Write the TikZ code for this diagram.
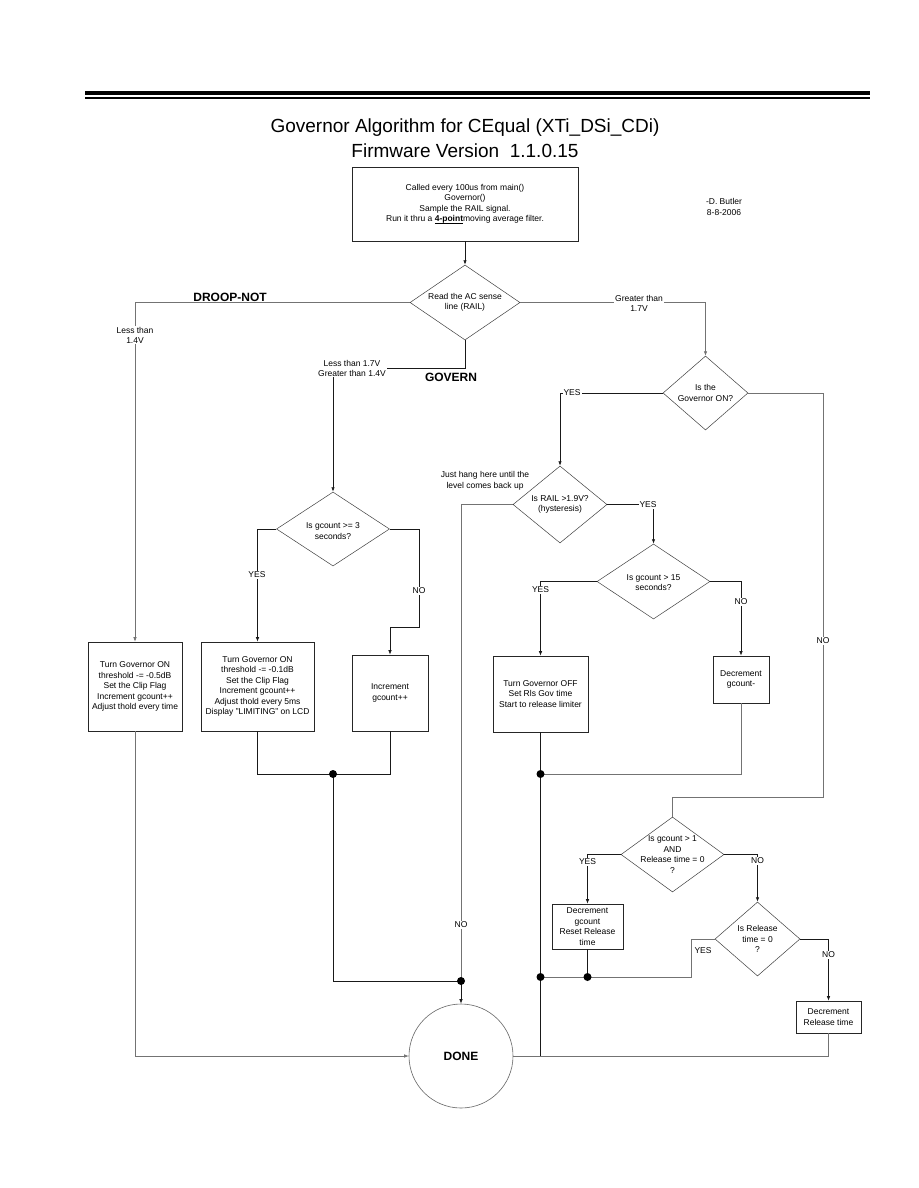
\documentclass[tikz,border=0pt]{standalone}
\usepackage{fontspec}
\setmainfont{Liberation Sans}
\usetikzlibrary{arrows.meta,shapes.geometric}
\newcommand\myulbold[1]{\sbox0{\textbf{#1}}\rlap{\rule[-1.6pt]{\wd0}{0.7pt}}\usebox0}
\begin{document}
\begin{tikzpicture}[x=1pt,y=-1pt,
  box/.style={draw=black!85, line width=0.6pt, inner sep=0pt, font=\fontsize{8.5}{10.5}\selectfont, align=center},
  dia/.style={draw=black!75, line width=0.5pt, diamond, inner sep=0pt},
  txt/.style={font=\fontsize{8.5}{10.5}\selectfont, align=center, inner sep=1pt},
  lbl/.style={font=\fontsize{8.5}{10}\selectfont, align=center, inner sep=1pt, fill=white},
  ln/.style={line width=0.7pt, black!90},
  gln/.style={line width=0.6pt, black!55},
  arr/.style={-{Latex[length=4.5pt,width=3.5pt]}},
  big/.style={font=\bfseries\fontsize{12}{14}\selectfont, inner sep=0pt}
]
\useasboundingbox (0,0) rectangle (918,1188);
\fill[white] (0,0) rectangle (918,1188);

% header rules
\draw[line width=4pt] (85,93.5) -- (870,93.5);
\draw[line width=1.2pt] (85,98) -- (870,98);

% title
\node[font=\fontsize{19}{23}\selectfont] (title1) at (465,128) {Governor Algorithm for CEqual (XTi\_DSi\_CDi)};
\node[font=\fontsize{19}{23}\selectfont] (title2) at (465,151) {Firmware Version\ \ 1.1.0.15};

\node[txt] (author) at (724,207) {-D. Butler\\8-8-2006};

% boxes
\node[box, minimum width=226pt, minimum height=74pt] (b1) at (465,204)
  {Called every 100us from main()\\Governor()\\Sample the RAIL signal.\\Run it thru a \myulbold{4-point}moving average filter.};
\node[box, minimum width=94pt, minimum height=89pt] (bL) at (135,686.5)
  {Turn Governor ON\\threshold -= -0.5dB\\Set the Clip Flag\\Increment gcount++\\Adjust thold every time};
\node[box, minimum width=113pt, minimum height=89pt] (bM) at (257.5,686.5)
  {Turn Governor ON\\threshold -= -0.1dB\\Set the Clip Flag\\Increment gcount++\\Adjust thold every 5ms\\Display "LIMITING" on LCD};
\node[box, minimum width=76pt, minimum height=76pt] (bI) at (390,693)
  {Increment\\gcount++};
\node[box, minimum width=95pt, minimum height=76pt] (bOff) at (540.5,694)
  {Turn Governor OFF\\Set Rls Gov time\\Start to release limiter};
\node[box, minimum width=56pt, minimum height=47pt] (bDg) at (741,679.5)
  {Decrement\\gcount-};
\node[box, minimum width=71pt, minimum height=45pt] (bDR) at (587.5,926.5)
  {Decrement\\gcount\\Reset Release\\time};
\node[box, minimum width=65pt, minimum height=32pt] (bRel) at (828.5,1017)
  {Decrement\\Release time};

% diamonds
\node[dia, minimum width=110pt, minimum height=75pt] (d1) at (465,302.5) {};
\node[txt] at (d1) {Read the AC sense\\line (RAIL)};
\node[dia, minimum width=113pt, minimum height=74pt] (d2) at (333,529) {};
\node[txt] at ([yshift=-2pt]d2.center) {Is gcount >= 3\\seconds?};
\node[dia, minimum width=85pt, minimum height=74pt] (d3) at (705.5,393) {};
\node[txt] at (d3) {Is the\\Governor ON?};
\node[dia, minimum width=94pt, minimum height=77pt] (d4) at (560,504.5) {};
\node[txt] at (d4) {Is RAIL >1.9V?\\(hysteresis)};
\node[dia, minimum width=113pt, minimum height=75pt] (d5) at (653.5,581.5) {};
\node[txt] at ([yshift=-1pt]d5.center) {Is gcount > 15\\seconds?};
\node[dia, minimum width=103pt, minimum height=75pt] (d6) at (672.5,854.5) {};
\node[txt] at (d6) {Is gcount > 1\\AND\\Release time = 0\\?};
\node[dia, minimum width=85pt, minimum height=74pt] (d7) at (757.5,939) {};
\node[txt] at (d7) {Is Release\\time = 0\\?};

% DONE
\node[circle, draw=black!60, line width=0.6pt, minimum size=104pt, inner sep=0pt, big] (done) at (461,1056) {DONE};

% junction coordinates
\coordinate (j1) at (333,774);
\coordinate (j2) at (461,981);
\coordinate (j3) at (540.5,774);
\coordinate (j4) at (540.5,977);
\coordinate (j5) at (587.5,977);
\coordinate (c1) at (540.5,1056);

% connectors
\draw[ln,arr] (b1.south) -- (d1.north);
\draw[gln,arr] (d1.west) -| (bL.north);
\draw[ln,arr] (d1.south) -- (465,368) -| (d2.north);
\draw[gln,arr] (d1.east) -| (d3.north);
\draw[ln,arr] (d2.west) -| (bM.north);
\draw[ln,arr] (d2.east) -- (419,529) -- (419,627) -| (bI.north);
\draw[ln,arr] (d3.west) -| (d4.north);
\draw[gln] (d3.east) -- (823,393) -- (823,797) -| (d6.north);
\draw[ln,arr] (d4.east) -| (d5.north);
\draw[gln] (d4.west) -| (j2);
\draw[ln,arr] (d5.west) -| (bOff.north);
\draw[ln,arr] (d5.east) -| (bDg.north);
\draw[ln,arr] (d6.west) -| (bDR.north);
\draw[ln,arr] (d6.east) -| (d7.north);
\draw[ln,arr] (d7.east) -| (bRel.north);
\draw[gln] (d7.west) -- ++(-23,0) |- (j4);

\draw[gln,arr] (bL.south) |- (done.west);
\draw[ln] (bM.south) |- (j1);
\draw[ln] (bI.south) |- (j1);
\draw[ln] (j1) |- (j2);
\draw[ln,arr] (j2) -- (done.north);
\draw[ln] (bOff.south) -- (j3) -- (j4) -- (c1);
\draw[gln] (bDg.south) |- (j3);
\draw[ln] (bDR.south) -- (j5);
\draw[gln] (bRel.south) |- (done.east);

% dots
\foreach \j in {j1,j2,j3,j4,j5} \fill (\j) circle (4pt);

% labels
\node[big] (droop) at (230,297) {DROOP-NOT};
\node[big] (govern) at (451,377) {GOVERN};
\node[lbl] (l1) at (135,335) {Less than\\1.4V};
\node[lbl] (l2) at (352,368) {Less than 1.7V\\Greater than 1.4V};
\node[lbl] (l3) at (639,303) {Greater than\\1.7V};
\node[lbl] (l4) at (572,393) {YES};
\node[txt] (l5) at (485,481) {Just hang here until the\\level comes back up};
\node[lbl] (l6) at (648,504.5) {YES};
\node[lbl] (l7) at (461,925) {NO};
\node[lbl] (l8) at (257,575) {YES};
\node[lbl] (l9) at (419,591) {NO};
\node[lbl] (l10) at (540.5,590) {YES};
\node[lbl] (l11) at (741,602) {NO};
\node[lbl] (l12) at (823,641) {NO};
\node[lbl] (l13) at (587.5,862) {YES};
\node[lbl] (l14) at (757.5,861) {NO};
\node[txt] (l15) at (703,951) {YES};
\node[lbl] (l16) at (828.5,955) {NO};
\end{tikzpicture}
\end{document}
